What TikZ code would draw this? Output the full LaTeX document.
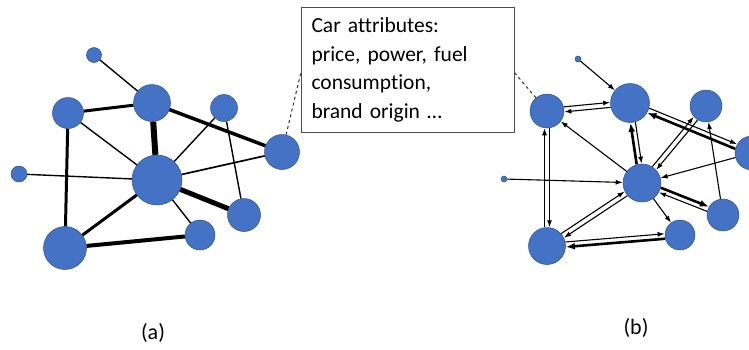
\documentclass[tikz,border=0pt]{standalone}
\usepackage{fontspec}
\setmainfont[Ligatures = NoCommon]{Carlito}
\usetikzlibrary{positioning}
\usetikzlibrary{calc}
\usetikzlibrary{arrows.meta}

\definecolor{nodeblue}{RGB}{68,114,196}
\definecolor{rimblue}{RGB}{47,82,143}

\tikzset{
	dot/.style = {circle, inner sep = 0pt, fill = nodeblue, draw = rimblue, line width = 0.5pt},
	link/.style = {black, line width = 1.4pt},
	arr/.style = {black, line width = 1.1pt, -{Latex[length = 7pt, width = 5pt]}},
	heavy/.style = {line width = 2.6pt, -{Latex[length = 9pt, width = 7pt]}}
}

\newcommand{\twoway}[4]{%
	\path (#1) -- (#2) coordinate [pos = 0] (s) coordinate [pos = 1] (e);
	\draw [arr, #3] ($(s)!2.5pt!90:(e)$) -- ($(e)!2.5pt!-90:(s)$);
	\draw [arr, #4] ($(e)!2.5pt!90:(s)$) -- ($(s)!2.5pt!-90:(e)$);
}

\begin{document}
\begin{tikzpicture}[x = 1pt, y = -1pt]
					\useasboundingbox (0, 0) rectangle (749, 349);
					\node (a0) at (94, 55) [dot, minimum size = 15pt] {};
					\node (a1) at (152, 103) [dot, minimum size = 37pt] {};
					\node (a2) at (68, 113) [dot, minimum size = 31pt] {};
					\node (a3) at (224, 108) [dot, minimum size = 27pt] {};
					\node (a4) at (282, 152) [dot, minimum size = 35pt] {};
					\node (a5) at (19, 174) [dot, minimum size = 16pt] {};
					\node (a6) at (157, 180) [dot, minimum size = 50pt] {};
					\node (a7) at (244, 215) [dot, minimum size = 33pt] {};
					\node (a8) at (200, 235) [dot, minimum size = 30pt] {};
					\node (a9) at (65, 248) [dot, minimum size = 43pt] {};
					\draw [link] (a0) -- (a1);
					\draw [link, line width = 3pt] (a2) -- (a1);
					\draw [link, line width = 6pt] (a1) -- (a6);
					\draw [link, line width = 3.5pt] (a1) -- (a4);
					\draw [link] (a2) -- (a6);
					\draw [link, line width = 3pt] (a2) -- (a9);
					\draw [link] (a5) -- (a6);
					\draw [link] (a6) -- (a3);
					\draw [link, line width = 1.7pt] (a6) -- (a4);
					\draw [link] (a3) -- (a7);
					\draw [link, line width = 5pt] (a6) -- (a7);
					\draw [link] (a6) -- (a8);
					\draw [link, line width = 3pt] (a6) -- (a9);
					\draw [link, line width = 4pt] (a9) -- (a8);
					\node (b0) at (578, 59) [dot, minimum size = 6pt] {};
					\node (b1) at (630, 103) [dot, minimum size = 39pt] {};
					\node (b2) at (547, 111) [dot, minimum size = 34pt] {};
					\node (b3) at (706, 106) [dot, minimum size = 32pt] {};
					\node (b4) at (752, 153) [dot, minimum size = 34pt] {};
					\node (b5) at (504, 179) [dot, minimum size = 6pt] {};
					\node (b6) at (642, 183) [dot, minimum size = 38pt] {};
					\node (b7) at (723, 215) [dot, minimum size = 32pt] {};
					\node (b8) at (680, 235) [dot, minimum size = 30pt] {};
					\node (b9) at (547, 246) [dot, minimum size = 37pt] {};
					\draw [arr] (b0) -- (b1);
					\twoway{b2}{b1}{}{}
					\twoway{b6}{b1}{heavy}{}
					\twoway{b4}{b1}{heavy}{}
					\twoway{b6}{b3}{}{}
					\draw [arr] (b4) -- (b6);
					\draw [arr] (b7) -- (b3);
					\draw [arr] (b6) -- (b2);
					\draw [arr] (b5) -- (b6);
					\twoway{b7}{b6}{}{heavy}
					\draw [arr] (b6) -- (b8);
					\twoway{b9}{b6}{}{}
					\twoway{b9}{b2}{}{}
					\twoway{b8}{b9}{heavy}{}
					\node (attr) at (301, 7) [draw = black!70, line width = 1pt, anchor = north west, minimum width = 213pt, minimum height = 125pt, inner xsep = 10pt, text width = 193pt, align = left, font = \fontsize{21.5}{28.5}\selectfont] {Car attributes:\\price, power, fuel\\consumption,\\brand origin \dots};
					\coordinate (ta) at (301, 72);
					\coordinate (tb) at (514, 72);
					\draw [black!80, line width = 1pt, dashed] (a4) -- (ta);
					\draw [black!80, line width = 1pt, dashed] (b2) -- (tb);
					\node (la) at (153, 333) [font = \fontsize{22}{26}\selectfont] {(a)};
					\node (lb) at (636, 328) [font = \fontsize{22}{26}\selectfont] {(b)};
				\end{tikzpicture}
\end{document}
